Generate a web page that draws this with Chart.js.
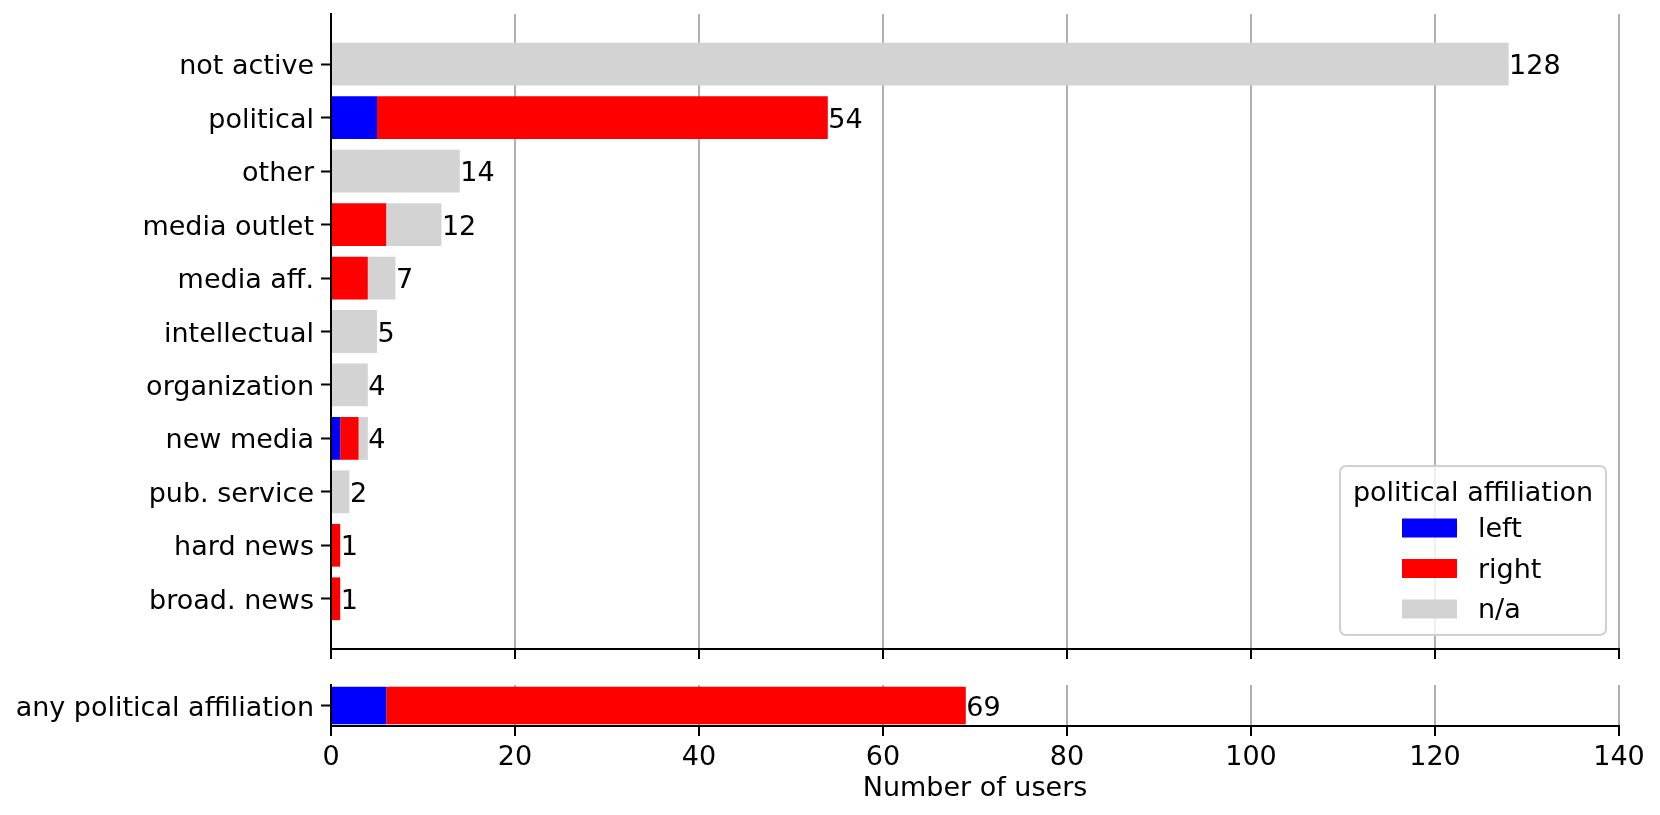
<!DOCTYPE html>
<html>
<head>
<meta charset="utf-8">
<script src="https://cdn.jsdelivr.net/npm/chart.js@4.4.1/dist/chart.umd.min.js"></script>
<style>
  body { margin: 0; background: #fff; }
  #wrap { position: relative; width: 1660px; height: 815px; }
  canvas { position: absolute; left: 0; }
  #top { top: 0; }
  #bottom { top: 670px; }
</style>
</head>
<body>
<div id="wrap">
  <canvas id="top" width="1660" height="660"></canvas>
  <canvas id="bottom" width="1660" height="145"></canvas>
</div>
<script>
// user types, top panel
const categories = ['not active', 'political', 'other', 'media outlet', 'media aff.', 'intellectual',
                    'organization', 'new media', 'pub. service', 'hard news', 'broad. news'];
const leftCounts  = [0, 5, 0, 0, 0, 0, 0, 1, 0, 0, 0];
const rightCounts = [0, 49, 0, 6, 4, 0, 0, 2, 0, 1, 1];
const naCounts    = [128, 0, 14, 6, 3, 5, 4, 1, 2, 0, 0];

// bottom panel
const anyCategory = ['any political affiliation'];
const anyLeft  = [6];
const anyRight = [63];

const xTicks = [0, 20, 40, 60, 80, 100, 120, 140];
const seriesNames = ['left', 'right', 'n/a'];
const seriesColors = ['#0000ff', '#ff0000', '#d3d3d3'];

Chart.defaults.font.family = "'DejaVu Sans'";
Chart.defaults.font.size = 27;
Chart.defaults.color = '#000';

const toPoints = values => values.map((v, i) => ({ x: v, y: i }));

// numbers at the end of each stacked bar
const totalLabels = {
  id: 'totalLabels',
  afterDatasetsDraw(chart) {
    const ctx = chart.ctx;
    const xs = chart.scales.x, ys = chart.scales.y;
    const n = chart.data.datasets[0].data.length;
    ctx.save();
    ctx.font = "27px 'DejaVu Sans'";
    ctx.fillStyle = '#000';
    ctx.textAlign = 'left';
    ctx.textBaseline = 'middle';
    for (let i = 0; i < n; i++) {
      let total = 0;
      chart.data.datasets.forEach(ds => { total += ds.data[i].x; });
      ctx.fillText(String(total), xs.getPixelForValue(total) + 0.5, ys.getPixelForValue(i) + 3);
    }
    ctx.restore();
  }
};

// legend box inside the plot, lower right
const boxLegend = {
  id: 'boxLegend',
  afterDraw(chart) {
    const ctx = chart.ctx, a = chart.chartArea;
    const w = 266, h = 169;
    const x0 = a.right - 13 - w, y0 = a.bottom - 14 - h;
    ctx.save();
    ctx.beginPath();
    ctx.roundRect(x0, y0, w, h, 6);
    ctx.fillStyle = 'rgba(255,255,255,0.8)';
    ctx.fill();
    ctx.strokeStyle = '#d0d0d0';
    ctx.lineWidth = 2;
    ctx.stroke();
    ctx.fillStyle = '#000';
    ctx.font = "27px 'DejaVu Sans'";
    ctx.textBaseline = 'middle';
    ctx.textAlign = 'center';
    ctx.fillText('political affiliation', x0 + w / 2, y0 + 28);
    ctx.textAlign = 'left';
    chart.data.datasets.forEach((ds, i) => {
      const cy = y0 + 62 + i * 40.5;
      ctx.fillStyle = ds.backgroundColor;
      ctx.fillRect(x0 + 62, cy - 9.5, 55, 19);
      ctx.fillStyle = '#000';
      ctx.fillText(ds.label, x0 + 138, cy + 2);
    });
    ctx.restore();
  }
};

function fixWidth(px) {
  return axis => { axis.width = px; axis.paddingTop = 0; axis.paddingBottom = 0; };
}
function fixHeight(px) {
  return axis => { axis.height = px; axis.paddingLeft = 0; axis.paddingRight = 0; };
}

const xBase = {
  type: 'linear',
  stacked: true,
  min: 0,
  max: 140,
  afterBuildTicks: axis => { axis.ticks = xTicks.map(v => ({ value: v })); },
  grid: { color: '#b0b0b0', lineWidth: 2, tickColor: '#000', tickLength: 10, tickWidth: 2 },
  border: { color: '#000', width: 2, z: 1 }
};

function yAxis(labels, lo, hi) {
  return {
    type: 'linear',
    stacked: true,
    reverse: true,
    offset: false,
    min: lo,
    max: hi,
    afterBuildTicks: axis => { axis.ticks = labels.map((c, i) => ({ value: i })); },
    ticks: { callback: v => labels[v], padding: 7, labelOffset: 3 },
    grid: { offset: false, drawOnChartArea: false, tickColor: '#000', tickLength: 10, tickWidth: 2 },
    border: { color: '#000', width: 2, z: 1 },
    afterFit: fixWidth(331)
  };
}

new Chart(document.getElementById('top'), {
  type: 'bar',
  data: {
    datasets: [
      { label: seriesNames[0], data: toPoints(leftCounts), backgroundColor: seriesColors[0] },
      { label: seriesNames[1], data: toPoints(rightCounts), backgroundColor: seriesColors[1] },
      { label: seriesNames[2], data: toPoints(naCounts), backgroundColor: seriesColors[2] }
    ]
  },
  options: {
    indexAxis: 'y',
    responsive: false,
    animation: false,
    borderWidth: 0,
    barPercentage: 0.8,
    categoryPercentage: 1.0,
    layout: { padding: { top: 14, right: 41, left: 0, bottom: 0 } },
    plugins: { legend: { display: false }, tooltip: { enabled: false } },
    scales: {
      x: Object.assign({}, xBase, {
        ticks: { display: false },
        afterFit: fixHeight(11)
      }),
      y: yAxis(categories, -0.94, 10.94)
    }
  },
  plugins: [totalLabels, boxLegend]
});

new Chart(document.getElementById('bottom'), {
  type: 'bar',
  data: {
    datasets: [
      { label: seriesNames[0], data: toPoints(anyLeft), backgroundColor: seriesColors[0] },
      { label: seriesNames[1], data: toPoints(anyRight), backgroundColor: seriesColors[1] }
    ]
  },
  options: {
    indexAxis: 'y',
    responsive: false,
    animation: false,
    borderWidth: 0,
    barPercentage: 0.91,
    categoryPercentage: 1.0,
    layout: { padding: { top: 15, right: 41, left: 0, bottom: 0 } },
    plugins: { legend: { display: false }, tooltip: { enabled: false } },
    scales: {
      x: Object.assign({}, xBase, {
        ticks: { padding: 6 },
        title: { display: true, text: 'Number of users', padding: { top: 0, bottom: 10 } },
        afterFit: fixHeight(89)
      }),
      y: yAxis(anyCategory, -0.44, 0.44)
    }
  },
  plugins: [totalLabels]
});
</script>
</body>
</html>
